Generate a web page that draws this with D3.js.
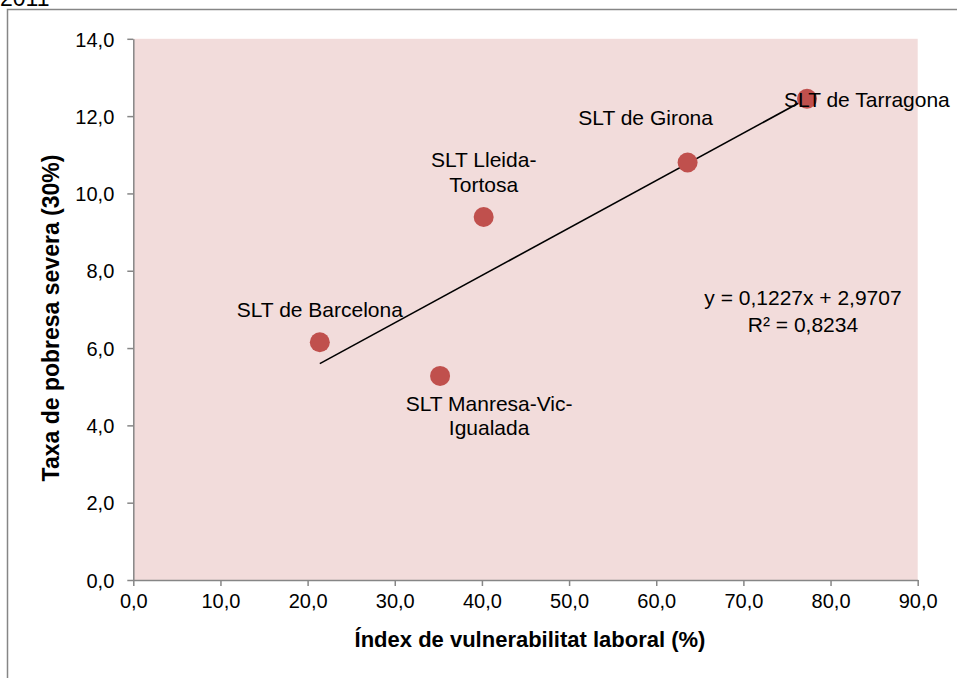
<!DOCTYPE html>
<html>
<head>
<meta charset="utf-8">
<script src="https://cdn.jsdelivr.net/npm/d3@7"></script>
<style>
    body { margin: 0; background: #fff; overflow: hidden; }
    text { font-family: "Liberation Sans", Arial, sans-serif; fill: #000; }
</style>
</head>
<body>
<svg id="svg-main" width="957" height="678"></svg>
<script>
// data
var regions = ["SLT de Barcelona", "SLT Manresa-Vic-Igualada", "SLT Lleida-Tortosa", "SLT de Girona", "SLT de Tarragona"];
var vulnerability = [21.4, 35.2, 40.2, 63.6, 77.3];
var poverty = [6.15, 5.28, 9.39, 10.8, 12.45];
var labelLines = [["SLT de Barcelona"], ["SLT Manresa-Vic-", "Igualada"], ["SLT Lleida-", "Tortosa"], ["SLT de Girona"], ["SLT de Tarragona"]];
var xTicks = [0, 10, 20, 30, 40, 50, 60, 70, 80, 90];
var yTicks = [0, 2, 4, 6, 8, 10, 12, 14];
var slope = 0.1227, intercept = 2.9707, rSquared = "0,8234";

// label placement relative to each point (dx, dy of first baseline, anchor)
var labelPos = [
    {dx: 0, dy: -25, anchor: "middle"},
    {dx: 49, dy: 35, anchor: "middle"},
    {dx: 0, dy: -50, anchor: "middle"},
    {dx: -42, dy: -38, anchor: "middle"},
    {dx: -23, dy: 8, anchor: "start"}
];

var svg = d3.select("svg");
var fmt = function (d) { return d3.format(".1f")(d).replace(".", ","); };

var x = d3.scaleLinear().domain([0, 90]).range([133.3, 917.7]);
var y = d3.scaleLinear().domain([0, 14]).range([580, 38.8]);

// outer frame and clipped title
svg.append("rect")
    .attr("x", 7.5).attr("y", 9.5)
    .attr("width", 1000).attr("height", 700)
    .attr("fill", "none").attr("stroke", "#868686").attr("stroke-width", 1.5);

svg.append("text")
    .attr("x", 0).attr("y", 6)
    .style("font-size", "23px")
    .text("2011");

// plot area
svg.append("rect")
    .attr("x", x(0)).attr("y", y(14))
    .attr("width", x(90) - x(0)).attr("height", y(0) - y(14))
    .attr("fill", "#F2DCDB");

var xAxis = svg.append("g")
    .attr("transform", "translate(0," + y(0) + ")")
    .call(d3.axisBottom(x).tickValues(xTicks).tickFormat(fmt).tickSize(6).tickSizeOuter(0).tickPadding(8));

var yAxis = svg.append("g")
    .attr("transform", "translate(" + x(0) + ",0)")
    .call(d3.axisLeft(y).tickValues(yTicks).tickFormat(fmt).tickSize(6).tickSizeOuter(0).tickPadding(13));

[xAxis, yAxis].forEach(function (a) {
    a.select(".domain").attr("stroke", "#868686").attr("stroke-width", 1.5);
    a.selectAll(".tick line").attr("stroke", "#868686").attr("stroke-width", 1.5);
    a.selectAll(".tick text")
        .style("font-size", "20px")
        .style("font-family", "'Liberation Sans', Arial, sans-serif")
        .attr("fill", "#000");
});
yAxis.selectAll(".tick text").attr("dy", "0.36em");
xAxis.selectAll(".tick text").attr("dy", "0.72em");

// axis titles
svg.append("text")
    .attr("x", 530).attr("y", 647)
    .attr("text-anchor", "middle")
    .style("font-size", "22px").style("font-weight", "bold")
    .text("Índex de vulnerabilitat laboral (%)");

svg.append("text")
    .attr("transform", "translate(59,318) rotate(-90)")
    .attr("text-anchor", "middle")
    .style("font-size", "23px").style("font-weight", "bold")
    .text("Taxa de pobresa severa (30%)");

// trendline over the span of the data
var xMin = d3.min(vulnerability), xMax = d3.max(vulnerability);
svg.append("line")
    .attr("x1", x(xMin)).attr("y1", y(slope * xMin + intercept))
    .attr("x2", x(xMax)).attr("y2", y(slope * xMax + intercept))
    .attr("stroke", "#000").attr("stroke-width", 1.6);

// points
var points = regions.map(function (r, i) {
    return {name: r, vx: vulnerability[i], vy: poverty[i], lines: labelLines[i], pos: labelPos[i]};
});

svg.append("g").selectAll("circle")
    .data(points)
    .enter().append("circle")
    .attr("cx", function (d) { return x(d.vx); })
    .attr("cy", function (d) { return y(d.vy); })
    .attr("r", 10)
    .attr("fill", "#C0504D");

// labels
var labels = svg.append("g").selectAll("text")
    .data(points)
    .enter().append("text")
    .attr("text-anchor", function (d) { return d.pos.anchor; })
    .style("font-size", "21px");

labels.each(function (d) {
    var t = d3.select(this);
    d.lines.forEach(function (line, j) {
        t.append("tspan")
            .attr("x", x(d.vx) + d.pos.dx)
            .attr("y", y(d.vy) + d.pos.dy + j * 24.5)
            .text(line);
    });
});

// equation
var eq = svg.append("text")
    .attr("text-anchor", "middle")
    .style("font-size", "21px");
eq.append("tspan").attr("x", 803).attr("y", 305)
    .text("y = " + String(slope).replace(".", ",") + "x + " + String(intercept).replace(".", ","));
eq.append("tspan").attr("x", 803).attr("y", 332)
    .text("R² = " + rSquared);
</script>
</body>
</html>
